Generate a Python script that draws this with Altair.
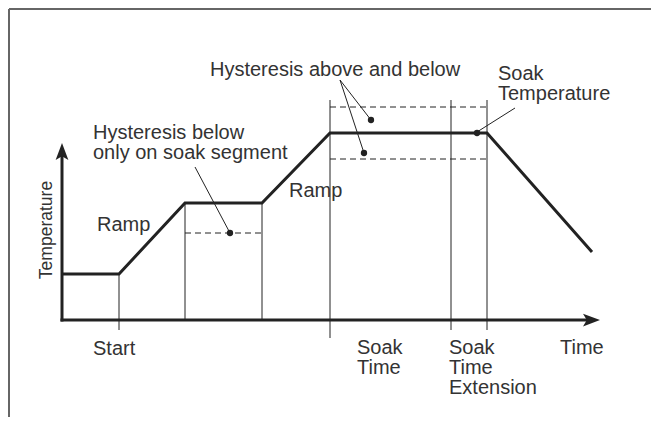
import altair as alt
import pandas as pd

# ---- schematic data (time units, temperature units; origin at axis corner) ----
# Temperature profile breakpoints
profile_time = [0, 57, 123, 200, 268, 425, 530]
profile_temp = [46, 46, 117, 117, 187, 187, 68]

# Axis lines (start, end)
axis_t = [0, 0]
axis_T = [0, 0]
axis_t2 = [0, 525]
axis_T2 = [165, 0]

# Arrow heads
arrow_time = [0, 529.5]
arrow_temp = [168.5, 0]
arrow_angle = [0, 90]

# Thin vertical marker lines
marker_time = [57, 123, 200, 268, 389, 425]
marker_top = [46, 117, 117, 220, 220, 220]
marker_bottom = [-10, 0, 0, -18, -10, -10]

# Hysteresis band (dashed) lines
band_start = [268, 268, 123]
band_end = [425, 425, 200]
band_temp = [213, 161, 87]

# Annotation dots
dot_time = [309, 302, 168, 415]
dot_temp = [200, 167, 87, 187]

# Leader lines
leader_t = [278, 278, 133, 453]
leader_T = [240, 240, 153, 212]
leader_t2 = [309, 302, 168, 415]
leader_T2 = [200, 167, 87, 188]

# Frame lines
frame_t = [-53, -53]
frame_T = [311, 311]
frame_t2 = [589, -53]
frame_T2 = [311, -97]

# Labels
label_text = ["Hysteresis above and below", "Hysteresis below\nonly on soak segment",
              "Soak\nTemperature", "Ramp", "Ramp", "Start", "Soak\nTime",
              "Soak\nTime\nExtension", "Time"]
label_time = [148, 31, 436, 35, 227, 31, 295, 387, 498]
label_temp = [244, 181, 240, 89, 123, -35, -34, -34, -34]

ylabel_text = ["Temperature"]
ylabel_time = [-10]
ylabel_temp = [90]

# ---- build ----
xs = alt.Scale(domain=[-54, 589], nice=False, zero=False)
ys = alt.Scale(domain=[-97, 312], nice=False, zero=False)

def X(f):
    return alt.X(f, type="quantitative", scale=xs, axis=None)

def Y(f):
    return alt.Y(f, type="quantitative", scale=ys, axis=None)

INK = "#222222"
TXT = "#333333"
FONT = "Liberation Sans"

frame = alt.Chart(pd.DataFrame(dict(t=frame_t, T=frame_T, t2=frame_t2, T2=frame_T2))).mark_rule(
    color="#666666", strokeWidth=2).encode(x=X("t"), y=Y("T"), x2="t2", y2="T2")

markers = alt.Chart(pd.DataFrame(dict(t=marker_time, T=marker_top, T2=marker_bottom))).mark_rule(
    color=INK, strokeWidth=1).encode(x=X("t"), y=Y("T"), y2="T2")

bands = alt.Chart(pd.DataFrame(dict(t=band_start, t2=band_end, T=band_temp))).mark_rule(
    color=INK, strokeWidth=1, strokeDash=[6, 4]).encode(x=X("t"), x2="t2", y=Y("T"))

leaders = alt.Chart(pd.DataFrame(dict(t=leader_t, T=leader_T, t2=leader_t2, T2=leader_T2))).mark_rule(
    color=INK, strokeWidth=1).encode(x=X("t"), y=Y("T"), x2="t2", y2="T2")

axes = alt.Chart(pd.DataFrame(dict(t=axis_t, T=axis_T, t2=axis_t2, T2=axis_T2))).mark_rule(
    color=INK, strokeWidth=3, strokeCap="square").encode(x=X("t"), y=Y("T"), x2="t2", y2="T2")

arrow_path = "M0,-1 L0.75,1 L0,0.55 L-0.75,1 Z"
arrows = alt.Chart(pd.DataFrame(dict(t=arrow_time, T=arrow_temp, a=arrow_angle))).mark_point(
    shape=arrow_path, filled=True, size=289, color=INK, opacity=1, strokeWidth=0).encode(
    x=X("t"), y=Y("T"), angle=alt.Angle("a:Q", scale=None))

profile = alt.Chart(pd.DataFrame(dict(t=profile_time, T=profile_temp, o=list(range(len(profile_time)))))).mark_line(
    color=INK, strokeWidth=3, strokeJoin="miter").encode(x=X("t"), y=Y("T"), order="o:Q")

dots = alt.Chart(pd.DataFrame(dict(t=dot_time, T=dot_temp))).mark_circle(
    color=INK, size=40, opacity=1).encode(x=X("t"), y=Y("T"))

labels = alt.Chart(pd.DataFrame(dict(t=label_time, T=label_temp, s=label_text))).mark_text(
    align="left", baseline="alphabetic", font=FONT, fontSize=20, color=TXT, lineBreak="\n",
    lineHeight=20).encode(x=X("t"), y=Y("T"), text="s:N")

ylabel = alt.Chart(pd.DataFrame(dict(t=ylabel_time, T=ylabel_temp, s=ylabel_text))).mark_text(
    align="center", baseline="alphabetic", font=FONT, fontSize=17.5, color=TXT, angle=270).encode(
    x=X("t"), y=Y("T"), text="s:N")

chart = alt.layer(frame, markers, bands, leaders, axes, arrows, profile, dots, labels, ylabel).properties(
    width=643, height=409, padding=0, autosize="none"
).configure_view(stroke=None)

chart.save("out.html", embed_options={"renderer": "svg", "actions": False})
